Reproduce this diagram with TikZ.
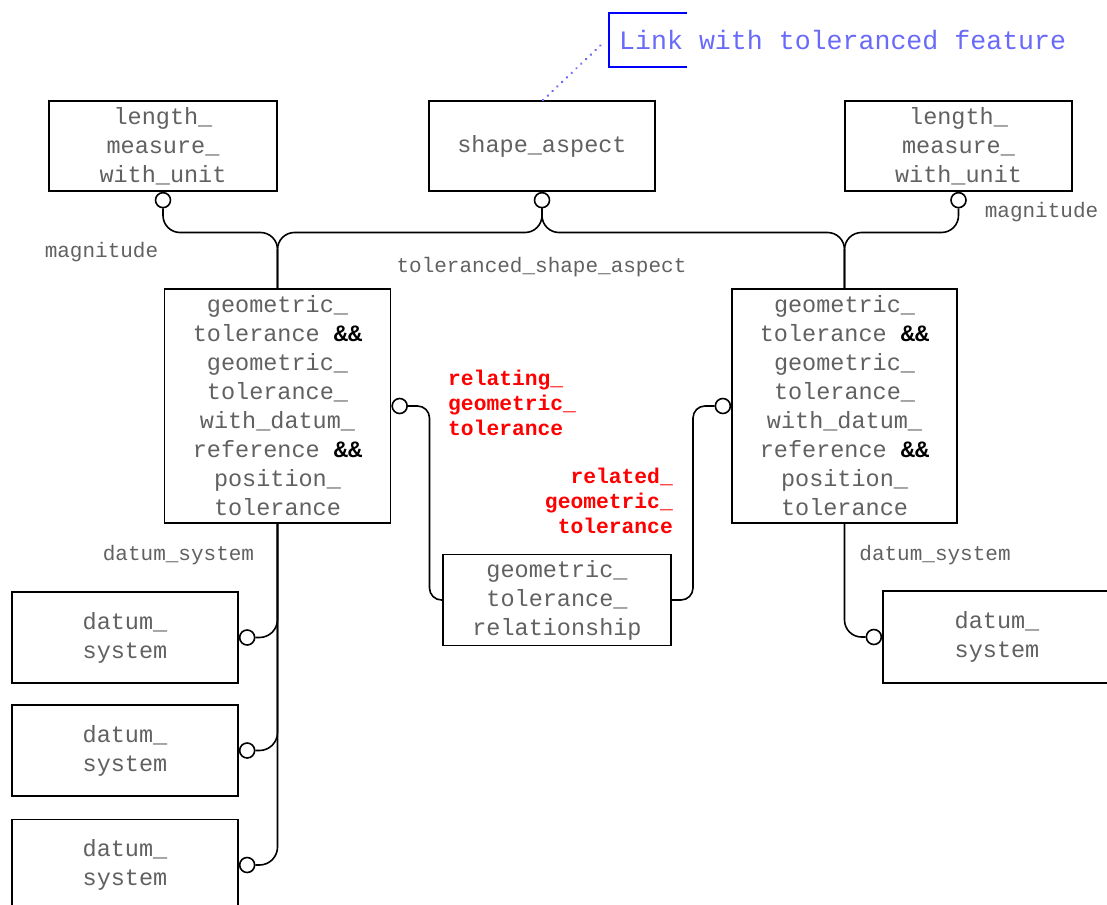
\documentclass[tikz,border=0pt]{standalone}
\usepackage{fontspec}
\newfontfamily\cour{Liberation Mono}
\usetikzlibrary{calc}
\definecolor{txt}{gray}{0.38}
\definecolor{linkblue}{RGB}{105,105,250}
\definecolor{brk}{RGB}{0,0,255}
\begin{document}
\begin{tikzpicture}[x=1pt,y=-1pt,
  ent/.style={draw, line width=1.7pt, fill=white, align=center, inner sep=0pt, text=txt,
    font=\cour\fontsize{23.5}{29}\selectfont},
  circ/.style={circle, draw, line width=1.6pt, fill=white, minimum size=15pt, inner sep=0pt},
  conn/.style={line width=1.6pt, rounded corners=17pt},
  lab/.style={text=txt, font=\cour\fontsize{21}{25}\selectfont, inner sep=0pt},
  rlab/.style={text=red, font=\cour\bfseries\fontsize{21.3}{25}\selectfont, inner sep=0pt}]
\clip (0,0) rectangle (1107,904);
% entities
\node[ent, minimum width=228, minimum height=90] (lmul) at (163,146) {length\_\\measure\_\\with\_unit};
\node[ent, minimum width=226, minimum height=90] (sa) at (542,146) {shape\_aspect};
\node[ent, minimum width=227, minimum height=90] (lmur) at (958.5,146) {length\_\\measure\_\\with\_unit};
\node[ent, minimum width=226, minimum height=234] (gtl) at (277.5,406) {geometric\_\\tolerance \textbf{\color{black}\&\&}\\geometric\_\\tolerance\_\\with\_datum\_\\reference \textbf{\color{black}\&\&}\\position\_\\tolerance};
\node[ent, minimum width=225, minimum height=234] (gtr) at (844.5,406) {geometric\_\\tolerance \textbf{\color{black}\&\&}\\geometric\_\\tolerance\_\\with\_datum\_\\reference \textbf{\color{black}\&\&}\\position\_\\tolerance};
\node[ent, minimum width=228, minimum height=91] (gtrel) at (557,600) {geometric\_\\tolerance\_\\relationship};
\node[ent, minimum width=226, minimum height=91] (ds1) at (125,637.5) {datum\_\\system};
\node[ent, minimum width=226, minimum height=91] (ds2) at (125,750.5) {datum\_\\system};
\node[ent, minimum width=226, minimum height=91] (ds3) at (125,865) {datum\_\\system};
\node[ent, minimum width=228, minimum height=92] (dsr) at (997,637) {datum\_\\system};
% circles
\node[circ, anchor=north] (c1) at (lmul.south) {};
\node[circ, anchor=north] (csa) at (sa.south) {};
\node[circ, anchor=north] (c4) at (lmur.south) {};
\node[circ, anchor=west] (cgl) at (gtl.east) {};
\node[circ, anchor=east] (cgr) at (gtr.west) {};
\node[circ, anchor=west] (cd1) at (ds1.east) {};
\node[circ, anchor=west] (cd2) at (ds2.east) {};
\node[circ, anchor=west] (cd3) at (ds3.east) {};
\node[circ, anchor=east] (cdr) at (dsr.west) {};
% connectors
\coordinate (hy) at (0,232.5);
\draw[conn] (gtl.north) -- (gtl.north |- hy) -- (c1.south |- hy) -- (c1.south);
\draw[conn] (gtl.north) -- (gtl.north |- hy) -- (csa.south |- hy) -- (csa.south);
\draw[conn] (gtr.north) -- (gtr.north |- hy) -- (csa.south |- hy) -- (csa.south);
\draw[conn] (gtr.north) -- (gtr.north |- hy) -- (c4.south |- hy) -- (c4.south);
\draw[conn, rounded corners=18pt] (gtl.south) -- (gtl.south |- cd1.east) -- (cd1.east);
\draw[conn, rounded corners=18pt] (gtl.south) -- (gtl.south |- cd2.east) -- (cd2.east);
\draw[conn, rounded corners=18pt] (gtl.south) -- (gtl.south |- cd3.east) -- (cd3.east);
\draw[conn] (gtr.south) -- (gtr.south |- cdr.west) -- (cdr.west);
\coordinate (lx) at (429.5,0);
\coordinate (rx) at (693,0);
\draw[conn, rounded corners=12pt] (gtrel.west) -- (lx |- gtrel.west) -- (lx |- cgl.east) -- (cgl.east);
\draw[conn, rounded corners=12pt] (gtrel.east) -- (rx |- gtrel.east) -- (rx |- cgr.west) -- (cgr.west);
% labels
\node[lab] (lmag) at (101.5,252) {magnitude};
\node[lab] (rmag) at (1041.5,212) {magnitude};
\node[lab] (tsa) at (541.5,267) {toleranced\_shape\_aspect};
\node[lab] (dsl) at (178.5,555) {datum\_system};
\node[lab] (dsrl) at (935,555) {datum\_system};
\node[rlab, align=left, anchor=west] (rel1) at (448,403) {relating\_\\geometric\_\\tolerance};
\node[rlab, align=right, anchor=east] (rel2) at (673,501) {related\_\\geometric\_\\tolerance};
% note
\node[font=\cour\fontsize{26.6}{32}\selectfont, text=linkblue, anchor=west, inner sep=0pt, minimum height=54] (link) at (619,40) {Link with toleranced feature};
\draw[brk, line width=1.7pt] ([xshift=68pt]link.north west) -- ([xshift=-10pt]link.north west) -- ([xshift=-10pt]link.south west) -- ([xshift=68pt]link.south west);
\draw[linkblue, line width=2.6pt, line cap=round, dash pattern=on 0.1pt off 6.5pt] ([xshift=1pt]sa.north) -- ([xshift=-16pt,yshift=-3pt]link.west);
\end{tikzpicture}
\end{document}
